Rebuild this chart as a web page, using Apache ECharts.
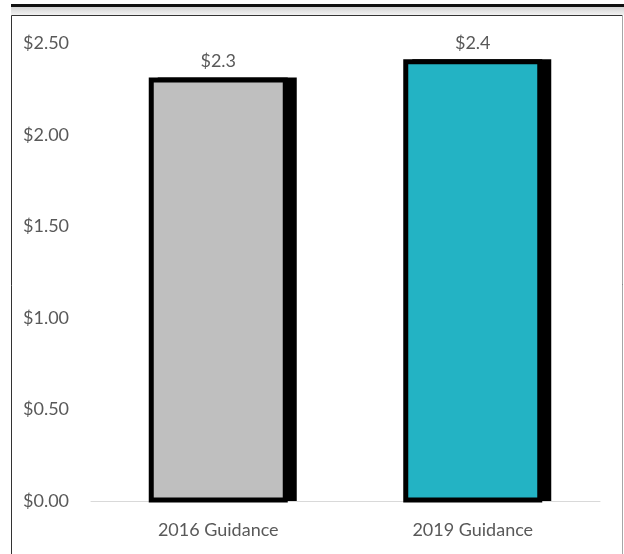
<!DOCTYPE html>
<html>
<head>
<meta charset="utf-8">
<script src="https://cdn.jsdelivr.net/npm/echarts@6/dist/echarts.min.js"></script>
<style>
  html, body { margin: 0; padding: 0; background: #fff; }
  #chart { width: 624px; height: 554px; }
</style>
</head>
<body>
<div id="chart"></div>
<script>
// Dividend guidance per share
const categories = ['2016 Guidance', '2019 Guidance'];
const values = [2.3, 2.4];
const barColors = ['#bfbfbf', '#23b3c4'];
const yTicks = [0, 0.5, 1, 1.5, 2, 2.5];

const textColor = '#595959';
const fontFamily = 'Lato, "Open Sans", sans-serif';

const BAR_W = 134;
const BORDER = 5;
const SHADOW_DX = 9;

const chart = echarts.init(document.getElementById('chart'), null, { renderer: 'canvas' });

function renderBar(params, api) {
  const idx = api.value(0);
  const val = api.value(1);
  const top = api.coord([idx, val]);
  const base = api.coord([idx, 0]);
  const x = top[0] - BAR_W / 2;
  const h = base[1] - top[1];
  const half = BORDER / 2;
  return {
    type: 'group',
    children: [
      // solid offset shadow behind the bar
      {
        type: 'rect',
        shape: { x: x - half + SHADOW_DX, y: top[1] - half, width: BAR_W + BORDER, height: h + half },
        style: { fill: '#000' }
      },
      {
        type: 'rect',
        shape: { x: x, y: top[1], width: BAR_W, height: h - 1 },
        style: { fill: barColors[params.dataIndex], stroke: '#000', lineWidth: BORDER }
      },
      {
        type: 'text',
        x: top[0],
        y: top[1] - half - 7,
        style: {
          text: '$' + val.toFixed(1),
          fill: textColor,
          font: '18px ' + fontFamily,
          align: 'center',
          verticalAlign: 'bottom'
        }
      }
    ]
  };
}

chart.setOption({
  backgroundColor: '#fff',
  animation: false,
  graphic: [
    // heavy rule across the top
    { type: 'rect', shape: { x: 11, y: 4, width: 620, height: 3 }, style: { fill: '#111' }, z: 10 },
    // soft grey band under the rule
    {
      type: 'rect', shape: { x: 11, y: 7, width: 620, height: 8 },
      style: {
        fill: new echarts.graphic.LinearGradient(0, 0, 0, 1, [
          { offset: 0, color: '#d4d4d4' },
          { offset: 1, color: '#f2f2f2' }
        ])
      }, z: 10
    },
    // frame around the plot
    { type: 'rect', shape: { x: 11.5, y: 15.5, width: 611, height: 560 }, style: { fill: null, stroke: '#333', lineWidth: 1 }, z: 10 },
    { type: 'line', shape: { x1: 622.5, y1: 15, x2: 622.5, y2: 554 }, style: { stroke: '#a6a6a6', lineWidth: 1 }, z: 11 }
  ],
  grid: { left: 91, right: 24, top: 43.5, bottom: 53 },
  xAxis: {
    type: 'category',
    data: categories,
    axisTick: { show: false },
    axisLine: { show: true, lineStyle: { color: '#d9d9d9', width: 1 } },
    axisLabel: { color: textColor, fontFamily, fontSize: 18, margin: 20 }
  },
  yAxis: {
    type: 'value',
    min: yTicks[0],
    max: yTicks[yTicks.length - 1],
    interval: 0.5,
    splitLine: { show: false },
    axisLine: { show: false },
    axisTick: { show: false },
    axisLabel: {
      color: textColor, fontFamily, fontSize: 18,
      align: 'left', margin: 68,
      formatter: v => '$' + v.toFixed(2)
    }
  },
  series: [{
    type: 'custom',
    renderItem: renderBar,
    encode: { x: 0, y: 1 },
    data: values.map((v, i) => [i, v]),
    z: 2
  }]
});
</script>
</body>
</html>
